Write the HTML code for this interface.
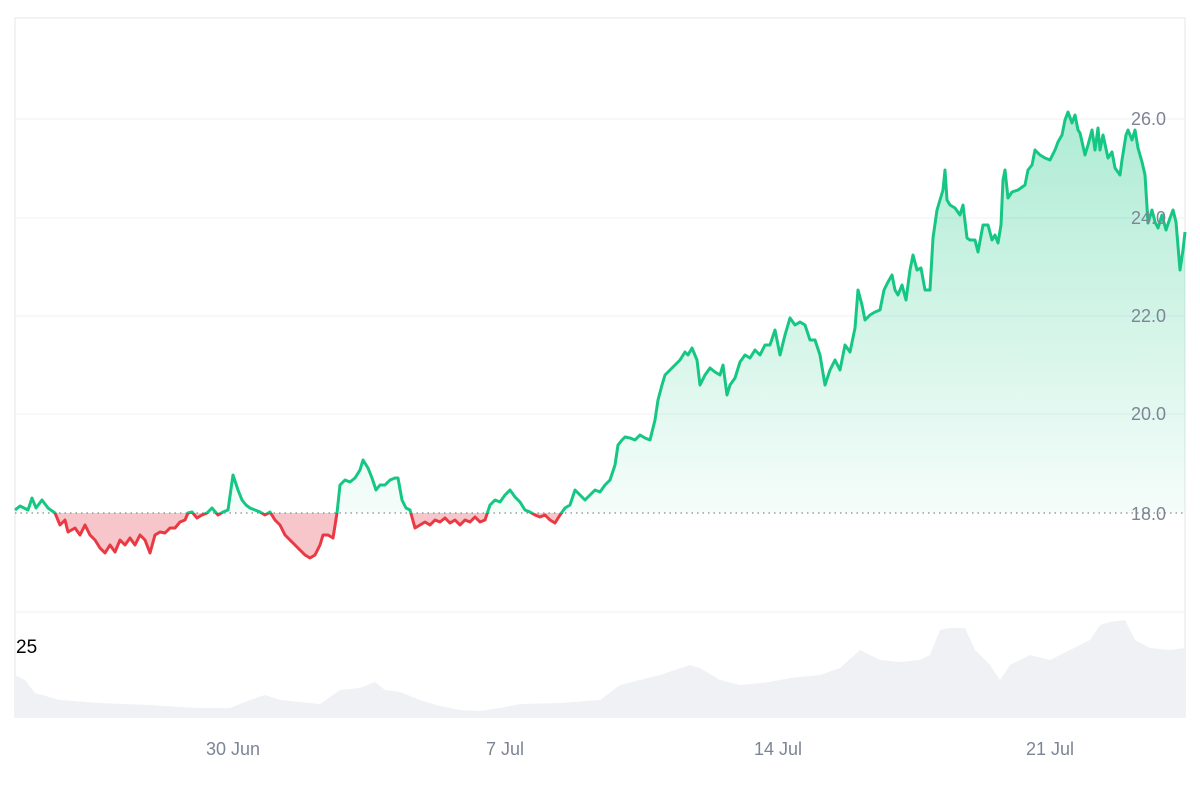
<!DOCTYPE html><html><head><style>body{margin:0;background:#fff}svg{display:block}text{font-family:"Liberation Sans",sans-serif}</style></head><body>
<svg width="1200" height="800" viewBox="0 0 1200 800">
<defs>
<linearGradient id="g" x1="0" y1="110" x2="0" y2="513" gradientUnits="userSpaceOnUse"><stop offset="0" stop-color="#16c784" stop-opacity="0.35"/><stop offset="1" stop-color="#16c784" stop-opacity="0.04"/></linearGradient>
<clipPath id="up"><rect x="0" y="0" width="1200" height="513"/></clipPath>
<clipPath id="dn"><rect x="0" y="513" width="1200" height="200"/></clipPath>
<polygon id="area" points="15,513 15,510 20,506 28,510 32,498 36,508 42,500 48,508 55,513 60,525 65,520 68,532 75,528 80,535 85,525 90,535 95,540 100,548 105,553 110,545 115,552 120,540 125,545 130,538 135,545 140,535 145,540 150,553 155,535 160,532 165,533 170,528 175,528 180,522 185,520 188,513 192,512 197,518 202,515 207,513 212,508 218,515 223,512 228,510 233,475 238,490 242,500 246,505 250,508 255,510 260,512 265,515 270,512 275,520 280,525 285,535 290,540 295,545 300,550 305,555 310,558 315,555 320,545 323,535 328,535 333,538 337,513 340,485 345,480 350,482 355,478 360,470 363,460 368,468 372,478 376,490 380,485 385,485 390,480 395,478 398,478 402,500 406,508 410,510 415,528 420,525 425,522 430,525 435,520 440,522 445,518 450,523 455,520 460,525 465,520 470,522 475,517 480,522 485,520 490,505 495,500 500,502 505,495 510,490 515,497 520,502 525,510 530,512 535,515 540,517 545,515 550,520 555,523 560,515 565,508 570,505 575,490 580,495 585,500 590,495 595,490 600,492 605,485 610,480 615,465 618,445 622,440 625,437 630,438 635,440 640,435 645,438 650,440 655,420 658,400 662,385 665,375 670,370 675,365 680,360 685,352 688,355 692,348 697,360 700,385 705,375 710,368 715,372 720,375 723,365 727,395 730,385 735,378 740,362 745,355 750,358 755,350 760,355 765,345 770,345 775,330 780,355 785,335 790,318 795,325 800,322 805,325 810,340 815,340 820,355 825,385 830,370 835,360 840,370 845,345 850,352 855,328 858,290 862,305 865,320 870,315 875,312 880,310 884,290 888,282 892,275 895,290 898,295 902,285 906,300 910,270 913,255 917,270 921,268 925,290 930,290 933,238 937,210 940,200 943,190 945,170 947,200 950,205 955,208 960,215 963,205 967,238 970,240 975,240 978,252 983,225 988,225 992,240 995,235 998,243 1001,225 1003,180 1005,170 1008,198 1012,192 1018,190 1025,185 1028,170 1032,165 1035,150 1040,155 1045,158 1050,160 1055,150 1058,142 1062,135 1065,120 1068,112 1072,123 1075,115 1078,130 1080,133 1085,155 1088,145 1092,130 1095,150 1098,128 1100,150 1103,135 1108,158 1112,152 1115,168 1120,175 1122,160 1126,135 1128,130 1132,140 1135,130 1138,148 1142,162 1145,175 1148,223 1152,210 1155,222 1158,228 1162,215 1166,230 1170,218 1173,210 1176,222 1180,270 1183,250 1185,232 1185,513"/>
<polyline id="line" points="15,510 20,506 28,510 32,498 36,508 42,500 48,508 55,513 60,525 65,520 68,532 75,528 80,535 85,525 90,535 95,540 100,548 105,553 110,545 115,552 120,540 125,545 130,538 135,545 140,535 145,540 150,553 155,535 160,532 165,533 170,528 175,528 180,522 185,520 188,513 192,512 197,518 202,515 207,513 212,508 218,515 223,512 228,510 233,475 238,490 242,500 246,505 250,508 255,510 260,512 265,515 270,512 275,520 280,525 285,535 290,540 295,545 300,550 305,555 310,558 315,555 320,545 323,535 328,535 333,538 337,513 340,485 345,480 350,482 355,478 360,470 363,460 368,468 372,478 376,490 380,485 385,485 390,480 395,478 398,478 402,500 406,508 410,510 415,528 420,525 425,522 430,525 435,520 440,522 445,518 450,523 455,520 460,525 465,520 470,522 475,517 480,522 485,520 490,505 495,500 500,502 505,495 510,490 515,497 520,502 525,510 530,512 535,515 540,517 545,515 550,520 555,523 560,515 565,508 570,505 575,490 580,495 585,500 590,495 595,490 600,492 605,485 610,480 615,465 618,445 622,440 625,437 630,438 635,440 640,435 645,438 650,440 655,420 658,400 662,385 665,375 670,370 675,365 680,360 685,352 688,355 692,348 697,360 700,385 705,375 710,368 715,372 720,375 723,365 727,395 730,385 735,378 740,362 745,355 750,358 755,350 760,355 765,345 770,345 775,330 780,355 785,335 790,318 795,325 800,322 805,325 810,340 815,340 820,355 825,385 830,370 835,360 840,370 845,345 850,352 855,328 858,290 862,305 865,320 870,315 875,312 880,310 884,290 888,282 892,275 895,290 898,295 902,285 906,300 910,270 913,255 917,270 921,268 925,290 930,290 933,238 937,210 940,200 943,190 945,170 947,200 950,205 955,208 960,215 963,205 967,238 970,240 975,240 978,252 983,225 988,225 992,240 995,235 998,243 1001,225 1003,180 1005,170 1008,198 1012,192 1018,190 1025,185 1028,170 1032,165 1035,150 1040,155 1045,158 1050,160 1055,150 1058,142 1062,135 1065,120 1068,112 1072,123 1075,115 1078,130 1080,133 1085,155 1088,145 1092,130 1095,150 1098,128 1100,150 1103,135 1108,158 1112,152 1115,168 1120,175 1122,160 1126,135 1128,130 1132,140 1135,130 1138,148 1142,162 1145,175 1148,223 1152,210 1155,222 1158,228 1162,215 1166,230 1170,218 1173,210 1176,222 1180,270 1183,250 1185,232"/>
</defs>
<rect x="15" y="18" width="1170" height="699" fill="none" stroke="#eceef1" stroke-width="1.5"/>
<g stroke="#eef0f3" stroke-width="1"><line x1="15" y1="119" x2="1185" y2="119"/><line x1="15" y1="218" x2="1185" y2="218"/><line x1="15" y1="316" x2="1185" y2="316"/><line x1="15" y1="414" x2="1185" y2="414"/><line x1="15" y1="612" x2="1185" y2="612"/></g>
<polygon fill="#eff1f4" points="15,717 15,675 25,680 35,693 60,700 100,703 150,705 180,707 200,708 230,708 250,700 265,695 280,700 300,702 320,704 340,690 360,688 375,682 385,690 400,692 420,700 440,706 460,710 480,711 500,708 520,704 560,703 600,700 620,685 640,680 660,675 690,665 700,668 720,680 740,685 770,682 790,678 820,675 840,668 860,650 880,660 900,662 920,660 930,655 940,630 950,628 965,628 975,650 990,665 1000,680 1010,665 1030,655 1050,660 1070,650 1090,640 1100,625 1110,622 1125,620 1135,640 1150,648 1170,650 1185,648 1185,717"/>
<use href="#area" fill="url(#g)" clip-path="url(#up)"/>
<use href="#area" fill="#f6c6cb" clip-path="url(#dn)"/>
<line x1="15" y1="513" x2="1185" y2="513" stroke="#888" stroke-width="1.2" stroke-dasharray="1.5,4"/>
<use href="#line" fill="none" stroke="#16c784" stroke-width="3" stroke-linejoin="round" clip-path="url(#up)"/>
<use href="#line" fill="none" stroke="#ea3943" stroke-width="3" stroke-linejoin="round" clip-path="url(#dn)"/>
<g fill="#7d8595" font-size="18"><text x="1131" y="125">26.0</text><text x="1131" y="224">24.0</text><text x="1131" y="322">22.0</text><text x="1131" y="420">20.0</text><text x="1131" y="520">18.0</text></g>
<text x="16" y="653" font-size="19" fill="#000">25</text>
<g fill="#7d8595" font-size="18" text-anchor="middle"><text x="233" y="755">30 Jun</text><text x="505" y="755">7 Jul</text><text x="778" y="755">14 Jul</text><text x="1050" y="755">21 Jul</text></g>
</svg></body></html>
